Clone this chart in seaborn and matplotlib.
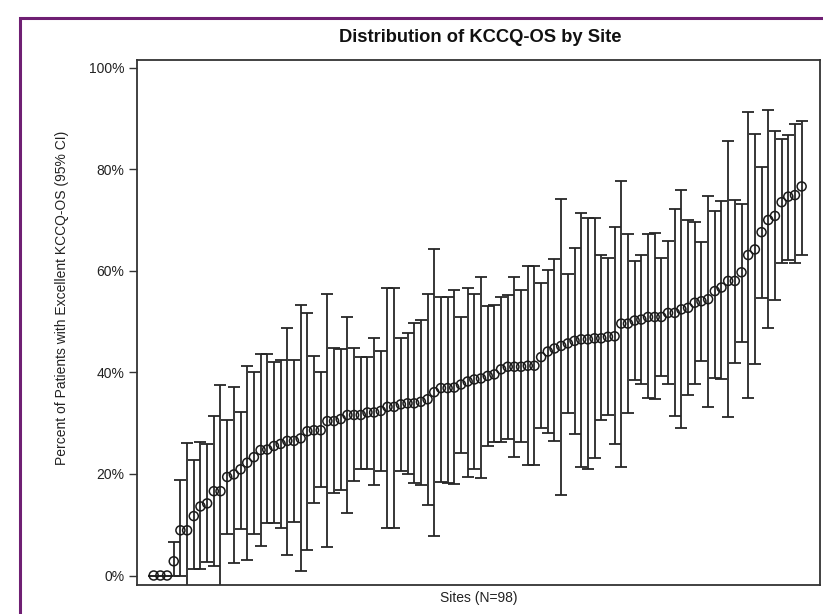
import numpy as np
import pandas as pd
import matplotlib
matplotlib.use("Agg")
import matplotlib.pyplot as plt
import seaborn as sns
from matplotlib.patches import Rectangle
from matplotlib.ticker import FuncFormatter

# percent of patients with excellent KCCQ-OS, per site (sorted), with 95% CI
pct_mean = [0, 0, 0, 2.8, 8.9, 8.9, 11.7, 13.6, 14.2, 16.6, 16.6, 19.4, 19.9, 20.9, 22.2,
            23.3, 24.7, 24.8, 25.5, 25.9, 26.5, 26.5, 27.0, 28.4, 28.6, 28.6, 30.4, 30.4, 30.8, 31.6, 31.6, 31.6,
            32.1, 32.1, 32.4, 33.2, 33.2, 33.7, 33.9, 33.9, 34.2, 34.7, 36.1, 36.9, 36.9, 37.0, 37.6, 38.2, 38.6,
            38.8, 39.3, 39.6, 40.6, 41.1, 41.1, 41.1, 41.3, 41.3, 43.0, 44.1, 44.7, 45.2, 45.7, 46.2, 46.5, 46.5,
            46.7, 46.7, 47.0, 47.1, 49.6, 49.6, 50.2, 50.4, 50.9, 50.9, 50.9, 51.7, 51.7, 52.4, 52.7, 53.7, 54.0,
            54.4, 56.0, 56.7, 58.0, 58.0, 59.7, 63.1, 64.2, 67.6, 70.0, 70.8, 73.5, 74.6, 74.9, 76.6]

ci_upper = [0, 0, 0, 6.6, 18.9, 26.1, 22.7, 26.3, 25.8, 31.4, 37.5, 30.7, 37.1, 32.2, 41.2,
            40.0, 43.6, 43.6, 42.1, 42.5, 48.7, 42.5, 53.2, 51.7, 43.2, 40.1, 55.4, 44.7, 44.5, 50.9, 44.7, 43.1,
            43.1, 46.7, 44.3, 56.7, 56.7, 46.7, 47.7, 49.8, 50.4, 55.4, 64.3, 54.8, 54.8, 56.3, 50.9, 56.7, 55.4,
            58.7, 53.1, 53.2, 54.9, 55.2, 58.8, 56.2, 60.9, 60.9, 57.5, 60.1, 62.4, 74.1, 59.4, 64.4, 71.3, 70.3,
            70.3, 63.1, 62.5, 68.7, 77.7, 67.2, 62.0, 63.2, 67.2, 67.5, 62.6, 65.9, 72.1, 76.0, 69.9, 69.6, 65.7,
            74.7, 71.7, 73.8, 85.6, 73.9, 73.1, 91.3, 86.9, 80.4, 91.6, 87.6, 86.0, 86.8, 88.9, 89.5]

ci_lower = [0, 0, 0, 0, 0, -4, 1.2, 1.3, 2.7, 1.8, -4, 8.1, 2.5, 9.2, 3.0,
            8.2, 5.8, 10.4, 10.4, 9.3, 4.0, 10.6, 0.9, 5.0, 14.3, 17.5, 5.7, 16.2, 16.8, 12.4, 18.7, 20.9,
            21.0, 17.8, 20.6, 9.3, 9.3, 20.6, 19.9, 18.3, 17.8, 13.9, 7.8, 18.4, 18.3, 18.1, 24.2, 19.4, 21.0,
            19.1, 25.5, 26.3, 26.3, 26.9, 23.4, 26.3, 21.8, 21.8, 29.0, 28.1, 26.5, 15.8, 31.9, 27.8, 21.3, 21.0,
            23.1, 30.6, 31.6, 25.9, 21.4, 31.9, 38.5, 37.8, 34.9, 34.7, 39.2, 37.7, 31.4, 29.0, 35.5, 37.7, 42.3,
            33.2, 38.8, 38.6, 31.3, 41.8, 46.0, 34.9, 41.7, 54.7, 48.7, 54.2, 61.6, 62.2, 61.6, 63.1]

y_ticks = [0, 20, 40, 60, 80, 100]

df = pd.DataFrame({"site": np.arange(1, len(pct_mean) + 1),
                   "pct": pct_mean, "lo": ci_lower, "hi": ci_upper})

sns.set_style("white")
plt.rcParams["font.family"] = ["Liberation Sans", "DejaVu Sans"]

fig = plt.figure(figsize=(8.23, 6.14), dpi=100)
ax = fig.add_axes([137 / 823, 1 - 585 / 614, 683 / 823, 525 / 614])

ax.errorbar(df["site"], df["pct"], yerr=[df["pct"] - df["lo"], df["hi"] - df["pct"]],
            fmt="none", ecolor="#262626", elinewidth=1.3, capsize=4.5, capthick=1.3)
sns.scatterplot(data=df, x="site", y="pct", ax=ax, marker="o", s=42,
                facecolor="none", edgecolor="#1a1a1a", linewidth=1.1, zorder=3)

ax.set_xlim(-1.5, 100.75)
ax.set_ylim(-1.87, 101.5)
ax.set_yticks(y_ticks)
ax.yaxis.set_major_formatter(FuncFormatter(lambda v, p: f"{v:.0f}%"))
ax.set_xticks([])
ax.tick_params(axis="y", which="major", left=True, length=6, width=1, color="#333333",
               labelsize=10, pad=3, labelcolor="#222222")
for sp in ax.spines.values():
    sp.set_color("#333333")
    sp.set_linewidth(1.3)

ax.set_xlabel("Sites (N=98)", fontsize=10, color="#222222", va="center")
ax.xaxis.set_label_coords(0.5, -0.025)
ax.set_ylabel("Percent of Patients with Excellent KCCQ-OS (95% CI)", fontsize=10,
              color="#222222", va="center")
ax.yaxis.set_label_coords(-0.11, 0.547)

fig.text(480 / 823, 1 - 38 / 614, "Distribution of KCCQ-OS by Site", ha="center",
         va="center", fontsize=13.2, fontweight="bold", color="#111111")

# purple page border (right and bottom edges fall outside the picture)
fig.patches.append(Rectangle((20 / 823, -0.1), 1.2, 1 - 18 / 614 + 0.1,
                             transform=fig.transFigure, fill=False,
                             edgecolor="#6f1f73", linewidth=2.2))

fig.savefig("out.png", dpi=100)
